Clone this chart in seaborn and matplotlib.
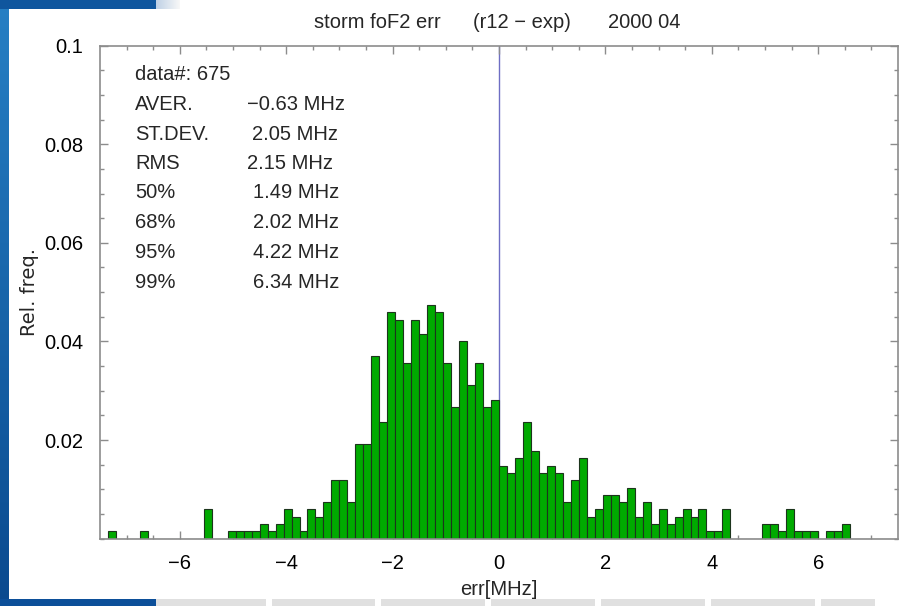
import numpy as np
import pandas as pd
import matplotlib
matplotlib.use("Agg")
import matplotlib.pyplot as plt
import seaborn as sns

# ---- data -------------------------------------------------------------
n_data = 675
bin_lo, bin_hi, n_bins = -7.5, 7.5, 100
# counts per 0.15 MHz bin, from -7.5 to 7.5 MHz
counts = [
    0, 1, 0, 0, 0, 1, 0, 0, 0, 0,
    0, 0, 0, 4, 0, 0, 1, 1, 1, 1,
    2, 1, 2, 4, 3, 1, 4, 3, 5, 8,
    8, 5, 13, 13, 25, 16, 31, 30, 24, 30,
    28, 32, 31, 24, 18, 27, 21, 24, 18, 19,
    10, 9, 11, 16, 12, 9, 10, 9, 5, 8,
    11, 3, 4, 6, 6, 5, 7, 3, 5, 2,
    4, 2, 3, 4, 3, 4, 1, 1, 4, 0,
    0, 0, 0, 2, 2, 1, 4, 1, 1, 1,
    0, 1, 1, 2, 0, 0, 0, 0, 0, 0,
]
stat_names = ["AVER.", "ST.DEV.", "RMS", "50%", "68%", "95%", "99%"]
stat_values = ["\u22120.63 MHz", "2.05 MHz", "2.15 MHz", "1.49 MHz",
               "2.02 MHz", "4.22 MHz", "6.34 MHz"]
y_tick_vals = [0.02, 0.04, 0.06, 0.08, 0.1]
y_tick_labels = ["0.02", "0.04", "0.06", "0.08", "0.1"]
x_tick_vals = [-6, -4, -2, 0, 2, 4, 6]

edges = np.linspace(bin_lo, bin_hi, n_bins + 1)
centers = 0.5 * (edges[:-1] + edges[1:])
df = pd.DataFrame({"err": centers, "freq": np.array(counts) / n_data})

# ---- figure -----------------------------------------------------------
sns.set_style("ticks")
plt.rcParams["font.family"] = ["Liberation Sans", "DejaVu Sans"]

W, H = 903, 606
FS = 14.5
fig = plt.figure(figsize=(W / 100, H / 100), dpi=100)

# slide-style frame behind the plot
bg = np.ones((H, W, 3))
t = np.linspace(0, 1, H)[:, None]
top_blue = np.array([0.15, 0.50, 0.77])
bot_blue = np.array([0.04, 0.29, 0.56])
strip = top_blue[None, :] * (1 - t) + bot_blue[None, :] * t
bg[:, :9, :] = strip[:, None, :]
bg[:9, :156, :] = np.array([0.06, 0.34, 0.62])
fade = np.linspace(0, 1, 24)[:, None]
bg[:9, 156:180, :] = (np.array([0.75, 0.82, 0.9]) * (1 - fade)
                      + np.array([0.97, 0.97, 0.97]) * fade)[None, :, :]
bg[599:, :156, :] = np.array([0.05, 0.31, 0.6])
bg[599:, 156:875, :] = 0.88
for gx in [266, 375, 485, 595, 705, 815]:
    bg[599:, gx:gx + 6, :] = 1.0
bg_ax = fig.add_axes([0, 0, 1, 1], zorder=-10)
bg_ax.imshow(bg, aspect="auto", extent=[0, 1, 0, 1], origin="upper")
bg_ax.set_axis_off()

ax = fig.add_axes([100 / W, 1 - 538.7 / H, 798 / W, (538.7 - 45.6) / H])
ax.set_facecolor("white")

ax.axvline(0, color="#6e6ec4", lw=1.0, zorder=0.5)
sns.histplot(data=df, x="err", weights="freq", bins=n_bins,
             binrange=(bin_lo, bin_hi), ax=ax,
             color="#00aa00", edgecolor="#1c351c", linewidth=0.8,
             alpha=1.0, zorder=2)

ax.set_xlim(bin_lo, bin_hi)
ax.set_ylim(0, 0.1)
ax.set_xticks(x_tick_vals)
ax.set_xticklabels([("\u2212" if v < 0 else "") + str(abs(v)) for v in x_tick_vals])
ax.set_xticks(np.arange(-7.0, 7.01, 0.5), minor=True)
ax.set_yticks(y_tick_vals)
ax.set_yticklabels(y_tick_labels)
ax.set_yticks(np.arange(0, 0.1001, 0.005), minor=True)

for s in ax.spines.values():
    s.set_color("#8c8c8c")
    s.set_linewidth(1.2)
ax.tick_params(which="both", direction="in", top=True, right=True,
               color="#8c8c8c", labelsize=FS, labelcolor="black")
ax.tick_params(which="major", length=6, width=1)
ax.tick_params(which="minor", length=3, width=1)
ax.tick_params(axis="x", pad=11)
ax.tick_params(axis="y", pad=12)

ax.set_xlabel("err[MHz]", fontsize=FS, labelpad=5)
ax.set_ylabel("Rel. freq.", fontsize=14, family=["DejaVu Sans"], labelpad=4)


def px(x, y):
    return x / W, 1 - y / H


# title pieces
fig.text(*px(314, 22), "storm foF2 err", fontsize=FS, va="center", ha="left")
fig.text(*px(473, 22), "(r12 \u2212 exp)", fontsize=FS, va="center", ha="left")
fig.text(*px(608, 22), "2000 04", fontsize=FS, va="center", ha="left")

# statistics block
fig.text(*px(135, 75), f"data#: {n_data}", fontsize=FS, va="center", ha="left")
row_y = [105, 134.5, 164, 193, 223, 253, 282]
val_right = [345, 338.5, 333, 339, 339, 339, 339]
for name, val, y, xr in zip(stat_names, stat_values, row_y, val_right):
    fig.text(*px(135, y), name, fontsize=FS, va="center", ha="left")
    fig.text(*px(xr, y), val, fontsize=FS, va="center", ha="right")

fig.savefig("out.png", dpi=100)
